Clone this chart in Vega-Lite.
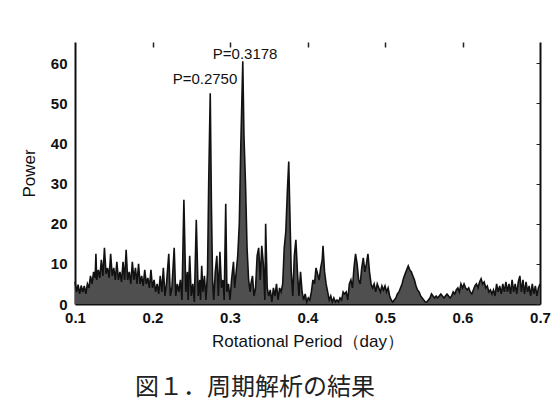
{
  "$schema": "https://vega.github.io/schema/vega-lite/v6.json",
  "width": 465,
  "height": 262,
  "autosize": "none",
  "padding": {"left": 75, "top": 42, "right": 12, "bottom": 97},
  "background": "white",
  "config": {"view": {"stroke": null}, "font": "Liberation Sans Narrow, Liberation Sans, Arial"},
  "title": {
    "text": "図１．周期解析の結果",
    "orient": "bottom",
    "anchor": "start",
    "frame": "group",
    "dx": 60,
    "offset": 27,
    "font": "Noto Sans CJK JP",
    "fontSize": 24,
    "fontWeight": "normal",
    "color": "#222"
  },
  "datasets": {
    "spec": [
      {"p":0.100,"power":5.5},{"p":0.102,"power":3.0},{"p":0.104,"power":4.8},{"p":0.106,"power":2.5},{"p":0.108,"power":4.6},
      {"p":0.110,"power":3.0},{"p":0.112,"power":4.5},{"p":0.114,"power":2.5},{"p":0.116,"power":5.0},{"p":0.118,"power":4.0},
      {"p":0.120,"power":7.0},{"p":0.122,"power":5.0},{"p":0.124,"power":8.0},{"p":0.126,"power":6.5},{"p":0.127,"power":12.5},
      {"p":0.128,"power":6.0},{"p":0.130,"power":8.5},{"p":0.132,"power":6.5},{"p":0.134,"power":11.0},{"p":0.136,"power":7.0},
      {"p":0.138,"power":14.0},{"p":0.140,"power":7.5},{"p":0.142,"power":9.0},{"p":0.144,"power":6.5},{"p":0.146,"power":12.5},
      {"p":0.148,"power":7.0},{"p":0.150,"power":9.0},{"p":0.152,"power":6.0},{"p":0.154,"power":10.5},{"p":0.156,"power":6.0},
      {"p":0.158,"power":8.0},{"p":0.160,"power":5.5},{"p":0.162,"power":10.5},{"p":0.164,"power":6.0},{"p":0.166,"power":13.5},
      {"p":0.168,"power":6.0},{"p":0.170,"power":8.0},{"p":0.172,"power":5.0},{"p":0.174,"power":10.5},{"p":0.176,"power":6.0},
      {"p":0.178,"power":9.0},{"p":0.180,"power":5.0},{"p":0.182,"power":10.0},{"p":0.184,"power":5.0},{"p":0.186,"power":7.0},
      {"p":0.188,"power":4.5},{"p":0.190,"power":8.5},{"p":0.192,"power":5.0},{"p":0.194,"power":6.5},{"p":0.196,"power":4.0},
      {"p":0.198,"power":8.5},{"p":0.200,"power":4.0},{"p":0.202,"power":6.0},{"p":0.204,"power":3.0},{"p":0.206,"power":5.0},
      {"p":0.208,"power":2.5},{"p":0.210,"power":7.0},{"p":0.212,"power":3.0},{"p":0.214,"power":9.0},{"p":0.216,"power":2.0},
      {"p":0.218,"power":5.0},{"p":0.221,"power":12.5},{"p":0.223,"power":2.0},{"p":0.225,"power":4.0},{"p":0.228,"power":14.0},
      {"p":0.230,"power":2.0},{"p":0.232,"power":5.0},{"p":0.234,"power":3.0},{"p":0.236,"power":6.0},{"p":0.238,"power":1.0},
      {"p":0.2405,"power":26.0},{"p":0.243,"power":3.0},{"p":0.245,"power":8.0},{"p":0.246,"power":1.0},{"p":0.248,"power":12.0},
      {"p":0.250,"power":2.0},{"p":0.252,"power":5.0},{"p":0.254,"power":0.5},{"p":0.2565,"power":21.0},{"p":0.259,"power":2.0},
      {"p":0.261,"power":6.0},{"p":0.262,"power":1.0},{"p":0.2635,"power":9.5},{"p":0.265,"power":3.0},{"p":0.267,"power":7.0},
      {"p":0.269,"power":1.0},{"p":0.271,"power":8.0},{"p":0.2725,"power":30.0},{"p":0.2745,"power":52.5},{"p":0.276,"power":25.0},
      {"p":0.2775,"power":6.0},{"p":0.279,"power":1.0},{"p":0.281,"power":8.0},{"p":0.283,"power":12.0},{"p":0.285,"power":2.0},
      {"p":0.287,"power":13.0},{"p":0.289,"power":4.0},{"p":0.291,"power":6.0},{"p":0.2925,"power":1.0},{"p":0.2945,"power":25.0},
      {"p":0.296,"power":3.0},{"p":0.298,"power":5.0},{"p":0.300,"power":1.0},{"p":0.302,"power":6.0},{"p":0.3045,"power":10.5},
      {"p":0.306,"power":4.0},{"p":0.308,"power":8.0},{"p":0.310,"power":12.0},{"p":0.312,"power":20.0},{"p":0.314,"power":40.0},
      {"p":0.3165,"power":60.5},{"p":0.318,"power":42.0},{"p":0.320,"power":30.0},{"p":0.322,"power":14.0},{"p":0.324,"power":6.0},
      {"p":0.326,"power":3.0},{"p":0.327,"power":5.0},{"p":0.329,"power":7.0},{"p":0.331,"power":2.0},{"p":0.333,"power":4.0},
      {"p":0.335,"power":12.0},{"p":0.337,"power":14.0},{"p":0.339,"power":6.0},{"p":0.341,"power":14.5},{"p":0.343,"power":10.0},
      {"p":0.345,"power":1.0},{"p":0.346,"power":20.0},{"p":0.348,"power":4.0},{"p":0.350,"power":2.0},{"p":0.352,"power":3.5},
      {"p":0.354,"power":0.5},{"p":0.356,"power":4.0},{"p":0.358,"power":2.0},{"p":0.360,"power":5.0},{"p":0.362,"power":1.0},
      {"p":0.364,"power":4.0},{"p":0.366,"power":3.0},{"p":0.368,"power":5.0},{"p":0.370,"power":14.0},{"p":0.372,"power":18.0},
      {"p":0.374,"power":28.0},{"p":0.3758,"power":35.5},{"p":0.377,"power":25.0},{"p":0.379,"power":8.0},{"p":0.381,"power":2.0},
      {"p":0.383,"power":12.0},{"p":0.385,"power":16.0},{"p":0.387,"power":8.0},{"p":0.389,"power":2.0},{"p":0.391,"power":8.0},
      {"p":0.393,"power":3.0},{"p":0.395,"power":1.0},{"p":0.397,"power":2.5},{"p":0.399,"power":0.5},{"p":0.401,"power":1.5},
      {"p":0.403,"power":1.0},{"p":0.405,"power":3.0},{"p":0.407,"power":6.0},{"p":0.409,"power":5.0},{"p":0.411,"power":9.0},
      {"p":0.413,"power":7.5},{"p":0.415,"power":6.0},{"p":0.417,"power":9.0},{"p":0.419,"power":11.0},{"p":0.420,"power":14.5},
      {"p":0.422,"power":8.0},{"p":0.424,"power":5.0},{"p":0.426,"power":3.0},{"p":0.428,"power":1.0},{"p":0.430,"power":2.0},
      {"p":0.432,"power":0.5},{"p":0.434,"power":1.5},{"p":0.436,"power":0.5},{"p":0.438,"power":1.0},{"p":0.440,"power":0.5},
      {"p":0.442,"power":1.5},{"p":0.444,"power":1.0},{"p":0.446,"power":3.0},{"p":0.448,"power":2.5},{"p":0.450,"power":3.0},
      {"p":0.452,"power":1.0},{"p":0.454,"power":5.0},{"p":0.456,"power":6.0},{"p":0.458,"power":4.0},{"p":0.460,"power":9.0},
      {"p":0.462,"power":12.5},{"p":0.464,"power":10.0},{"p":0.466,"power":6.0},{"p":0.468,"power":5.0},{"p":0.470,"power":9.0},
      {"p":0.472,"power":11.5},{"p":0.474,"power":8.0},{"p":0.476,"power":10.0},{"p":0.478,"power":12.5},{"p":0.480,"power":8.0},
      {"p":0.482,"power":5.0},{"p":0.484,"power":4.0},{"p":0.486,"power":5.0},{"p":0.488,"power":3.0},{"p":0.490,"power":5.0},
      {"p":0.492,"power":4.0},{"p":0.494,"power":3.0},{"p":0.496,"power":4.5},{"p":0.498,"power":3.5},{"p":0.500,"power":4.5},
      {"p":0.502,"power":3.0},{"p":0.504,"power":4.0},{"p":0.506,"power":2.0},{"p":0.508,"power":1.0},{"p":0.510,"power":0.5},
      {"p":0.512,"power":1.0},{"p":0.514,"power":1.5},{"p":0.516,"power":2.5},{"p":0.518,"power":3.0},{"p":0.520,"power":4.0},
      {"p":0.522,"power":5.0},{"p":0.524,"power":6.5},{"p":0.526,"power":7.5},{"p":0.528,"power":8.5},{"p":0.530,"power":9.5},
      {"p":0.532,"power":8.5},{"p":0.534,"power":8.0},{"p":0.536,"power":7.0},{"p":0.538,"power":6.0},{"p":0.540,"power":4.5},
      {"p":0.542,"power":3.5},{"p":0.544,"power":3.0},{"p":0.546,"power":2.0},{"p":0.548,"power":1.5},{"p":0.550,"power":1.0},
      {"p":0.552,"power":0.5},{"p":0.554,"power":0.5},{"p":0.556,"power":1.0},{"p":0.558,"power":1.5},{"p":0.560,"power":2.5},
      {"p":0.562,"power":2.0},{"p":0.564,"power":1.5},{"p":0.566,"power":2.0},{"p":0.568,"power":1.5},{"p":0.570,"power":2.0},
      {"p":0.572,"power":2.5},{"p":0.574,"power":2.0},{"p":0.576,"power":1.5},{"p":0.578,"power":2.0},{"p":0.580,"power":2.5},
      {"p":0.582,"power":2.0},{"p":0.584,"power":1.5},{"p":0.586,"power":2.0},{"p":0.588,"power":3.0},{"p":0.590,"power":2.5},
      {"p":0.592,"power":3.5},{"p":0.594,"power":4.0},{"p":0.596,"power":3.0},{"p":0.598,"power":5.0},{"p":0.600,"power":4.0},
      {"p":0.602,"power":5.0},{"p":0.604,"power":4.0},{"p":0.606,"power":3.5},{"p":0.608,"power":4.0},{"p":0.610,"power":3.0},
      {"p":0.612,"power":2.5},{"p":0.614,"power":3.5},{"p":0.616,"power":4.5},{"p":0.618,"power":5.0},{"p":0.620,"power":4.0},
      {"p":0.622,"power":5.5},{"p":0.624,"power":6.3},{"p":0.626,"power":5.0},{"p":0.628,"power":5.5},{"p":0.630,"power":4.0},
      {"p":0.632,"power":4.5},{"p":0.634,"power":3.0},{"p":0.636,"power":3.5},{"p":0.638,"power":2.5},{"p":0.640,"power":3.5},
      {"p":0.642,"power":2.0},{"p":0.644,"power":5.0},{"p":0.646,"power":3.0},{"p":0.648,"power":4.5},{"p":0.650,"power":2.5},
      {"p":0.652,"power":5.0},{"p":0.654,"power":3.0},{"p":0.656,"power":5.5},{"p":0.658,"power":3.0},{"p":0.660,"power":5.0},
      {"p":0.662,"power":2.5},{"p":0.664,"power":6.0},{"p":0.666,"power":3.0},{"p":0.668,"power":5.0},{"p":0.670,"power":2.5},
      {"p":0.672,"power":5.5},{"p":0.674,"power":7.0},{"p":0.676,"power":3.0},{"p":0.678,"power":6.0},{"p":0.680,"power":2.5},
      {"p":0.682,"power":5.5},{"p":0.684,"power":3.0},{"p":0.686,"power":4.5},{"p":0.688,"power":2.0},{"p":0.690,"power":5.0},
      {"p":0.692,"power":2.5},{"p":0.694,"power":4.5},{"p":0.696,"power":2.0},{"p":0.698,"power":4.0},{"p":0.700,"power":5.0}
    ],
    "labels": [
      {"p":0.2677,"power":56.0,"label":"P=0.2750"},
      {"p":0.3195,"power":62.3,"label":"P=0.3178"}
    ]
  },
  "layer": [
    {
      "data": {"name": "spec"},
      "mark": {"type": "area", "color": "#4f4f4f", "opacity": 1, "line": {"color": "#111111", "strokeWidth": 1.6}, "interpolate": "linear"},
      "encoding": {
        "x": {"field": "p", "type": "quantitative",
              "scale": {"domain": [0.1, 0.7], "nice": false, "zero": false},
              "axis": {"title": "Rotational Period（day）", "values": [0.1,0.2,0.3,0.4,0.5,0.6,0.7], "format": ".1f",
                       "grid": false, "ticks": false, "domainColor": "#111", "domainWidth": 2,
                       "labelFontSize": 15, "labelFontWeight": "bold", "labelColor": "#111", "labelPadding": 6, "labelFlush": false,
                       "titleFontSize": 17, "titleFontWeight": "normal", "titleColor": "#111", "titlePadding": 8}},
        "y": {"field": "power", "type": "quantitative",
              "scale": {"domain": [0, 65.3], "nice": false},
              "axis": {"title": "Power", "values": [0,10,20,30,40,50,60], "grid": false, "ticks": false,
                       "domainColor": "#111", "domainWidth": 2,
                       "labelFontSize": 15, "labelFontWeight": "bold", "labelColor": "#111", "labelPadding": 8,
                       "titleFontSize": 17, "titleFontWeight": "normal", "titleColor": "#111", "titlePadding": 12}}
      }
    },
    {
      "data": {"name": "labels"},
      "mark": {"type": "text", "fontSize": 15, "color": "#111", "font": "Liberation Sans Narrow, Liberation Sans, Arial"},
      "encoding": {
        "x": {"field": "p", "type": "quantitative",
              "axis": {"orient": "top", "title": null, "labels": false, "values": [0.2,0.3,0.4,0.5,0.6], "domain": false, "grid": false,
                       "tickSize": -5, "tickColor": "#222", "tickWidth": 1.5}},
        "y": {"field": "power", "type": "quantitative",
              "axis": {"orient": "right", "title": null, "labels": false, "values": [0,10,20,30,40,50,60], "grid": false,
                       "tickSize": -4, "tickColor": "#222", "domainColor": "#111", "domainWidth": 2}},
        "text": {"field": "label"}
      }
    }
  ],
  "resolve": {"axis": {"x": "independent", "y": "independent"}}
}
